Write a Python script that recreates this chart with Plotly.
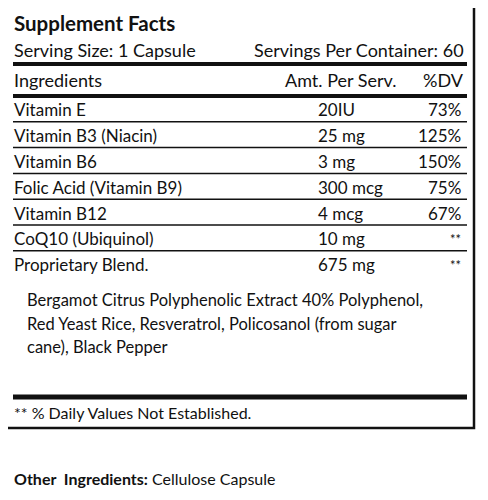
import plotly.graph_objects as go

ingredients = ["Vitamin E", "Vitamin B3 (Niacin)", "Vitamin B6", "Folic Acid (Vitamin B9)",
               "Vitamin B12", "CoQ10 (Ubiquinol)", "Proprietary Blend."]
amounts = ["20IU", "25 mg", "3 mg", "300 mcg", "4 mcg", "10 mg", "675 mg"]
dvs = ["73%", "125%", "150%", "75%", "67%", "**", "**"]
blend_lines = ["Bergamot Citrus Polyphenolic Extract 40% Polyphenol,",
               "Red Yeast Rice, Resveratrol, Policosanol (from sugar",
               "cane), Black Pepper"]

F = "Lato, Open Sans, sans-serif"
fig = go.Figure()
ann = []
shapes = []

def txt(x, y, s, size=16, anchor="left", bold=False):
    if bold:
        s = "<b>" + s + "</b>"
    ann.append(dict(x=x, y=y, text=s, showarrow=False, xanchor=anchor, yanchor="middle",
                    font=dict(family=F, size=size, color="#111")))

def hline(y, w):
    shapes.append(dict(type="line", x0=13, x1=467, y0=y, y1=y, line=dict(color="#111", width=w)))

# outer box
shapes.append(dict(type="rect", x0=5, x1=474, y0=3, y1=428, line=dict(color="#111", width=2.5)))

txt(12, 23, "Supplement Facts", 20.5, bold=True)
txt(12, 50, "Serving Size: 1 Capsule", 18)
txt(466, 50, "Servings Per Container: 60", 18, "right")
hline(64, 4)
txt(12, 80, "Ingredients", 18)
txt(398, 80, "Amt. Per Serv.", 18, "right")
txt(466, 80, "%DV", 18, "right")
hline(96, 4)

row_h = 25.8
for i, (name, amt, dv) in enumerate(zip(ingredients, amounts, dvs)):
    yc = 96 + row_h * i + row_h / 2 + 1
    txt(12, yc, name, 17)
    txt(316, yc, amt, 17)
    txt(463, yc, dv, 17 if dv != "**" else 13, "right")
    if i < len(ingredients) - 1:
        hline(96 + row_h * (i + 1), 1.5)

for j, line in enumerate(blend_lines):
    txt(25, 300 + j * 23.5, line, 16.5)

hline(397, 5)
txt(12, 412, "** % Daily Values Not Established.", 16)

txt(12, 478, "<b>Other  Ingredients:</b> Cellulose Capsule", 16)

# page body has an 8px margin, so the figure is shrunk and ranges shifted to compensate
fig.update_layout(
    width=480, height=492, margin=dict(l=0, r=0, t=0, b=0),
    plot_bgcolor="white", paper_bgcolor="white",
    xaxis=dict(range=[8, 488], visible=False, fixedrange=True),
    yaxis=dict(range=[500, 8], visible=False, fixedrange=True),
    annotations=ann, shapes=shapes, showlegend=False,
)
fig.write_html("out.html")
